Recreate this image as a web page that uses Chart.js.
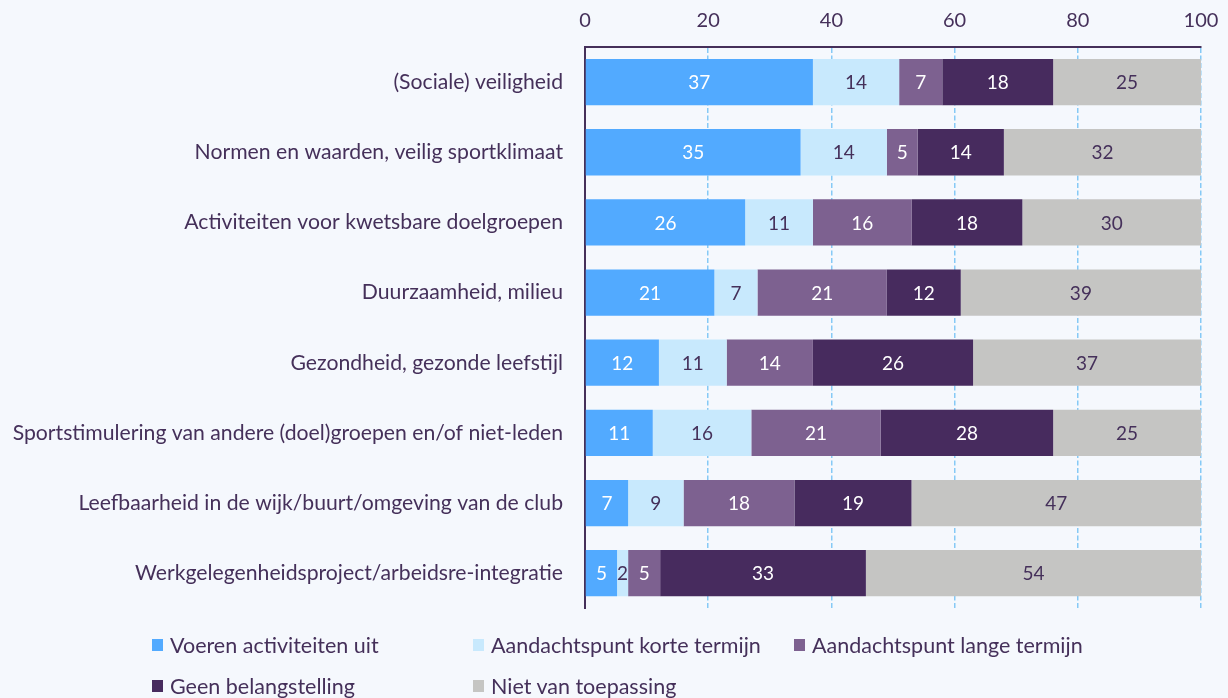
<!DOCTYPE html>
<html>
<head>
<meta charset="utf-8">
<script src="https://cdn.jsdelivr.net/npm/chart.js@4/dist/chart.umd.min.js"></script>
<style>
  body { margin: 0; background: #f5f8fd; font-family: Lato, sans-serif; color: #45305a; }
  #wrap { position: relative; width: 1228px; height: 698px; overflow: hidden; }
  canvas { position: absolute; left: 0; top: 0; }
  #legend { position: absolute; left: 152px; top: 624px; width: 969px; display: flex; flex-wrap: wrap; }
  .item { width: 321px; height: 41px; display: flex; align-items: center; font-size: 21.5px; }
  .sw { width: 11px; height: 12px; margin-right: 7px; }
</style>
</head>
<body>
<div id="wrap">
  <canvas id="chart" width="1228" height="643"></canvas>
  <div id="legend"></div>
</div>
<script>
const categories = [
  '(Sociale) veiligheid',
  'Normen en waarden, veilig sportklimaat',
  'Activiteiten voor kwetsbare doelgroepen',
  'Duurzaamheid, milieu',
  'Gezondheid, gezonde leefstijl',
  'Sportstimulering van andere (doel)groepen en/of niet-leden',
  'Leefbaarheid in de wijk/buurt/omgeving van de club',
  'Werkgelegenheidsproject/arbeidsre-integratie'
]
const seriesNames = ['Voeren activiteiten uit', 'Aandachtspunt korte termijn', 'Aandachtspunt lange termijn', 'Geen belangstelling', 'Niet van toepassing']
// last row estimated with decimals from the bar widths, labels show rounded values
const voerenUit = [37, 35, 26, 21, 12, 11, 7, 5.2]
const korteTermijn = [14, 14, 11, 7, 11, 16, 9, 1.8]
const langeTermijn = [7, 5, 16, 21, 14, 21, 18, 5.2]
const geenBelang = [18, 14, 18, 12, 26, 28, 19, 33.4]
const nietVanToepassing = [25, 32, 30, 39, 37, 25, 47, 54.4]
const xTicks = [0, 20, 40, 60, 80, 100]

const colors = ['#52aaff', '#c8e9fd', '#7d6190', '#472b5e', '#c5c5c3']
const labelColors = ['#ffffff', '#45305a', '#ffffff', '#ffffff', '#45305a']
const textColor = '#45305a'

const seriesValues = [voerenUit, korteTermijn, langeTermijn, geenBelang, nietVanToepassing]

// draws the value in the middle of every segment
const valueLabels = {
  id: 'valueLabels',
  afterDatasetsDraw(chart) {
    const ctx = chart.ctx
    ctx.save()
    ctx.font = '19px Lato'
    ctx.textAlign = 'center'
    ctx.textBaseline = 'middle'
    chart.data.datasets.forEach((ds, i) => {
      const meta = chart.getDatasetMeta(i)
      meta.data.forEach((bar, j) => {
        const right = Math.min(bar.x, chart.chartArea.right)
        const left = bar.base
        ctx.fillStyle = labelColors[i]
        ctx.fillText(Math.round(ds.data[j]), (left + right) / 2, bar.y + 1)
      })
    })
    ctx.restore()
  }
}

new Chart(document.getElementById('chart'), {
  type: 'bar',
  data: {
    labels: categories,
    datasets: seriesNames.map((name, i) => ({
      label: name,
      data: seriesValues[i],
      backgroundColor: colors[i],
      borderWidth: 0,
      barPercentage: 0.66,
      categoryPercentage: 1
    }))
  },
  options: {
    indexAxis: 'y',
    responsive: false,
    animation: false,
    layout: { padding: { top: 0, left: 0, right: 0, bottom: 12 } },
    plugins: { legend: { display: false }, tooltip: { enabled: false } },
    scales: {
      x: {
        position: 'top',
        stacked: true,
        min: 0,
        max: 100,
        afterBuildTicks: scale => { scale.ticks = xTicks.map(v => ({ value: v })) },
        afterFit: scale => {
          scale.height = 47
          scale.paddingLeft = 0
          scale.paddingRight = 27
        },
        grid: { color: '#86c9f6', lineWidth: 1.5, drawTicks: false },
        border: { color: textColor, width: 2, dash: [5, 2.5] },
        ticks: { color: textColor, font: { family: 'Lato', size: 20 }, padding: 14 }
      },
      y: {
        stacked: true,
        afterFit: scale => { scale.width = 585 },
        grid: { display: false, drawTicks: false },
        border: { color: textColor, width: 2 },
        ticks: { color: textColor, font: { family: 'Lato', size: 21.2 }, padding: 22 }
      }
    }
  },
  plugins: [valueLabels]
})

const legend = document.getElementById('legend')
seriesNames.forEach((name, i) => {
  const item = document.createElement('div')
  item.className = 'item'
  item.innerHTML = '<span class="sw" style="background:' + colors[i] + '"></span><span>' + name + '</span>'
  legend.appendChild(item)
})
</script>
</body>
</html>
